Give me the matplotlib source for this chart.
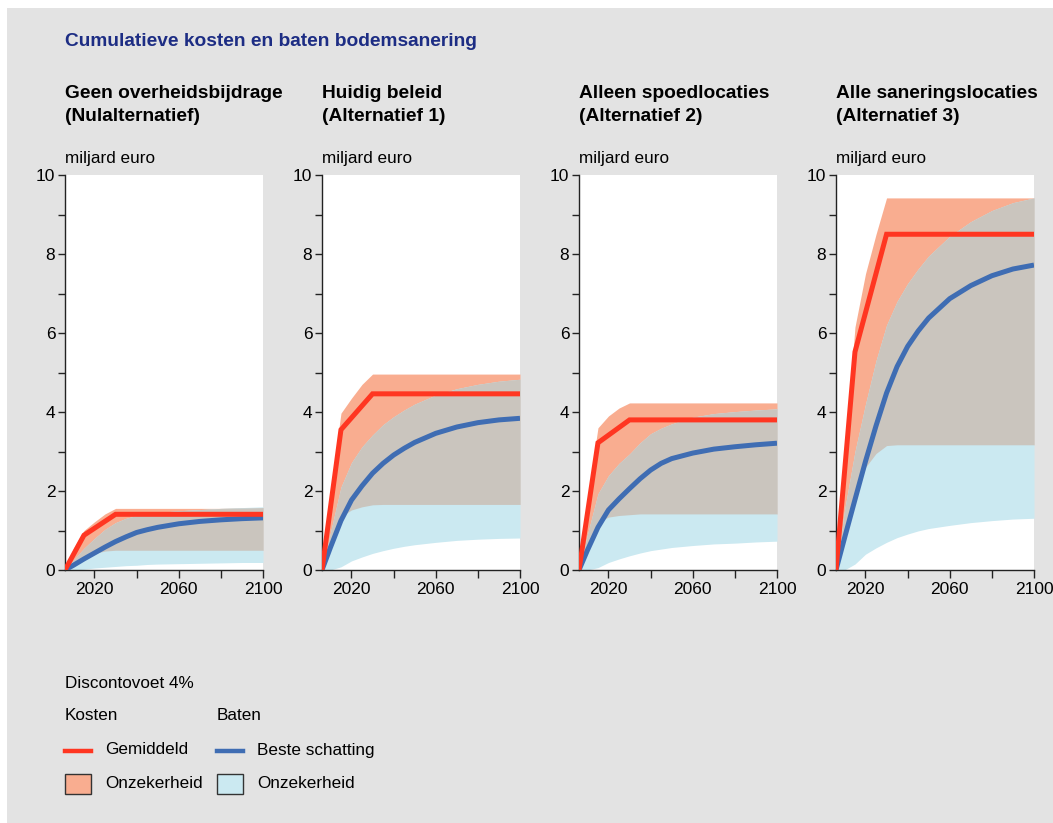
import numpy as np
import matplotlib
matplotlib.use("Agg")
import matplotlib.pyplot as plt
from matplotlib.patches import Rectangle
from matplotlib.lines import Line2D
from matplotlib.ticker import MultipleLocator

plt.rcParams["font.family"] = ["Liberation Sans", "DejaVu Sans"]

# ---- data (miljard euro, cumulatief) ----
titles = [
    "Geen overheidsbijdrage\n(Nulalternatief)",
    "Huidig beleid\n(Alternatief 1)",
    "Alleen spoedlocaties\n(Alternatief 2)",
    "Alle saneringslocaties\n(Alternatief 3)",
]

years = [2006, 2010, 2015, 2020, 2025, 2030, 2035, 2040, 2045, 2050, 2060, 2070, 2080, 2090, 2100]
years_cost = [2006, 2015, 2030, 2100]

cost_mean = [
    [0, 0.88, 1.41, 1.41],
    [0, 3.55, 4.46, 4.46],
    [0, 3.22, 3.80, 3.80],
    [0, 5.52, 8.50, 8.50],
]
cost_hi = [
    [0, 0.55, 1.00, 1.22, 1.42, 1.56, 1.56, 1.56, 1.56, 1.56, 1.56, 1.56, 1.56, 1.57, 1.58],
    [0, 2.00, 3.97, 4.35, 4.70, 4.96, 4.96, 4.96, 4.96, 4.96, 4.96, 4.96, 4.96, 4.96, 4.96],
    [0, 1.80, 3.60, 3.90, 4.10, 4.23, 4.23, 4.23, 4.23, 4.23, 4.23, 4.23, 4.23, 4.23, 4.23],
    [0, 2.75, 6.15, 7.50, 8.50, 9.42, 9.42, 9.42, 9.42, 9.42, 9.42, 9.42, 9.42, 9.42, 9.42],
]
cost_lo = [
    [0, 0.15, 0.30, 0.42, 0.48, 0.50, 0.50, 0.50, 0.50, 0.50, 0.50, 0.50, 0.50, 0.50, 0.50],
    [0, 0.70, 1.35, 1.52, 1.60, 1.65, 1.66, 1.66, 1.66, 1.66, 1.66, 1.66, 1.66, 1.66, 1.66],
    [0, 0.65, 1.21, 1.34, 1.38, 1.40, 1.42, 1.42, 1.42, 1.42, 1.42, 1.42, 1.42, 1.42, 1.42],
    [0, 0.90, 1.90, 2.60, 2.95, 3.15, 3.17, 3.17, 3.17, 3.17, 3.17, 3.17, 3.17, 3.17, 3.17],
]
benefit_best = [
    [0, 0.12, 0.28, 0.43, 0.58, 0.72, 0.84, 0.95, 1.02, 1.08, 1.17, 1.23, 1.27, 1.30, 1.32],
    [0, 0.57, 1.25, 1.77, 2.13, 2.45, 2.70, 2.91, 3.08, 3.23, 3.46, 3.62, 3.73, 3.80, 3.84],
    [0, 0.50, 1.08, 1.52, 1.80, 2.06, 2.31, 2.53, 2.70, 2.82, 2.96, 3.06, 3.12, 3.17, 3.21],
    [0, 0.80, 1.78, 2.75, 3.65, 4.48, 5.15, 5.66, 6.05, 6.38, 6.87, 7.20, 7.45, 7.62, 7.72],
]
benefit_hi = [
    [0, 0.25, 0.55, 0.80, 1.03, 1.20, 1.31, 1.38, 1.43, 1.46, 1.50, 1.53, 1.56, 1.58, 1.60],
    [0, 0.95, 2.10, 2.72, 3.12, 3.42, 3.68, 3.88, 4.05, 4.20, 4.43, 4.59, 4.70, 4.78, 4.83],
    [0, 0.90, 1.93, 2.39, 2.70, 2.94, 3.22, 3.45, 3.59, 3.70, 3.87, 3.96, 4.01, 4.05, 4.08],
    [0, 1.50, 3.00, 4.20, 5.30, 6.20, 6.80, 7.25, 7.62, 7.95, 8.45, 8.82, 9.10, 9.30, 9.42],
]
benefit_lo = [
    [0, 0, 0.02, 0.05, 0.07, 0.09, 0.11, 0.12, 0.14, 0.15, 0.16, 0.17, 0.18, 0.19, 0.19],
    [0, 0, 0.08, 0.23, 0.33, 0.42, 0.49, 0.55, 0.60, 0.64, 0.70, 0.75, 0.78, 0.80, 0.81],
    [0, 0, 0.06, 0.19, 0.28, 0.36, 0.43, 0.49, 0.53, 0.57, 0.62, 0.66, 0.68, 0.71, 0.73],
    [0, 0, 0.15, 0.40, 0.56, 0.70, 0.82, 0.91, 0.99, 1.05, 1.13, 1.20, 1.25, 1.29, 1.31],
]

# ---- styling ----
BG = "#e3e3e3"
RED = "#ff3621"
BLUE = "#3f6db3"
SALMON = "#f9ad90"
LIGHTBLUE = "#cbe9f1"
OVERLAP = "#cac5be"
TITLE_BLUE = "#1d2d84"

W, H = 1053, 823
fig = plt.figure(figsize=(W / 100, H / 100), dpi=100)
fig.patch.set_facecolor("white")
fig.patches.append(Rectangle((7 / W, 0), 1 - 7 / W, 1 - 8 / H, transform=fig.transFigure,
                             facecolor=BG, edgecolor="none", zorder=-10))


def fx(px):
    return px / W


def fy(py):
    return 1 - py / H


fig.text(fx(65), fy(42), "Cumulatieve kosten en baten bodemsanering", color=TITLE_BLUE,
         fontsize=13.8, fontweight="bold", va="center", ha="left")

lefts = [65, 322, 579, 836]
ax_w, top, bottom = 198, 175, 570

for i, left in enumerate(lefts):
    ax = fig.add_axes([fx(left), fy(bottom), fx(ax_w), (bottom - top) / H])
    ax.set_facecolor("white")
    y = np.array(years)
    chi, clo = np.array(cost_hi[i]), np.array(cost_lo[i])
    bhi, blo = np.array(benefit_hi[i]), np.array(benefit_lo[i])

    # cost band, benefit band, and the zone where both overlap
    ax.fill_between(y, clo, chi, color=SALMON, lw=0, zorder=1)
    ax.fill_between(y, blo, bhi, color=LIGHTBLUE, lw=0, zorder=2)
    lo = np.maximum(clo, blo)
    hi = np.minimum(chi, bhi)
    ax.fill_between(y, lo, hi, where=hi > lo, interpolate=True, color=OVERLAP, lw=0, zorder=3)

    ax.plot(y, benefit_best[i], color=BLUE, lw=3.6, solid_capstyle="butt",
            solid_joinstyle="round", zorder=4)
    ax.plot(years_cost, cost_mean[i], color=RED, lw=3.6, solid_capstyle="butt",
            solid_joinstyle="miter", zorder=5)

    ax.set_xlim(2006, 2100)
    ax.set_ylim(0, 10)
    for s in ("top", "right"):
        ax.spines[s].set_visible(False)
    for s in ("left", "bottom"):
        ax.spines[s].set_color("#222222")
        ax.spines[s].set_linewidth(1.0)
    ax.yaxis.set_major_locator(MultipleLocator(2))
    ax.yaxis.set_minor_locator(MultipleLocator(1))
    ax.set_xticks([2020, 2040, 2060, 2080, 2100])
    ax.set_xticklabels(["2020", "", "2060", "", "2100"])
    ax.tick_params(axis="both", which="both", direction="out", color="#222222",
                   labelsize=12.5, width=1.0)
    ax.tick_params(axis="y", which="major", length=5, pad=2)
    ax.tick_params(axis="y", which="minor", length=5)
    ax.tick_params(axis="x", length=6, pad=3)

    fig.text(fx(left), fy(105), titles[i], fontsize=13.8, fontweight="bold",
             va="center", ha="left", linespacing=1.4)
    fig.text(fx(left), fy(158), "miljard euro", fontsize=12.3, va="center", ha="left")

# ---- legend ----
fs = 12.3
fig.text(fx(65), fy(683), "Discontovoet 4%", fontsize=fs, va="center")
fig.text(fx(65), fy(715), "Kosten", fontsize=fs, va="center")
fig.text(fx(217), fy(715), "Baten", fontsize=fs, va="center")

for x0, col, lab in [(65, RED, "Gemiddeld"), (217, BLUE, "Beste schatting")]:
    fig.add_artist(Line2D([fx(x0), fx(x0 + 26)], [fy(751), fy(751)], color=col, lw=3.2,
                          transform=fig.transFigure))
    fig.text(fx(x0 + 40), fy(750), lab, fontsize=fs, va="center")

for x0, col in [(65, SALMON), (217, LIGHTBLUE)]:
    fig.patches.append(Rectangle((fx(x0), fy(794)), fx(26), 20 / H, transform=fig.transFigure,
                                 facecolor=col, edgecolor="#333333", lw=1.0))
    fig.text(fx(x0 + 40), fy(784), "Onzekerheid", fontsize=fs, va="center")

fig.savefig("out.png", dpi=100, facecolor=fig.get_facecolor())
